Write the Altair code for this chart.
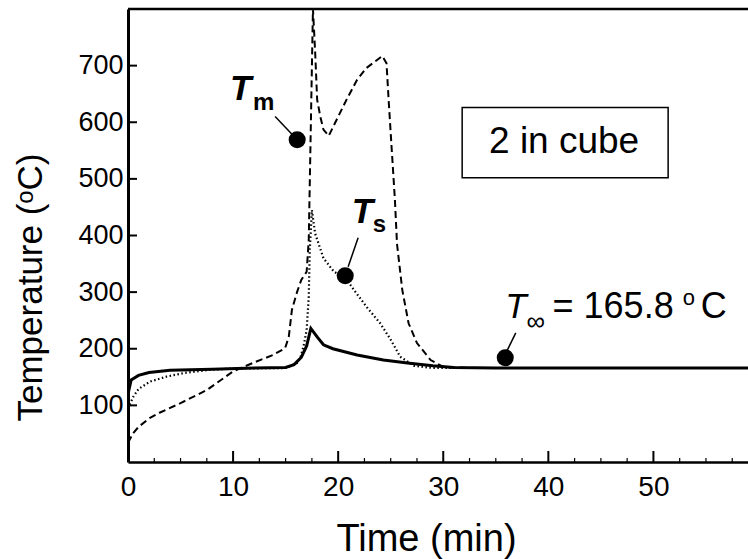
import altair as alt
import pandas as pd

# ---- data ----
solid_t = [0, 0.3, 1.0, 2.0, 4.0, 8.0, 12.0, 15.0, 15.8, 16.5, 17.0, 17.4, 18.0, 18.6, 19.5, 21.8, 24.3, 26.6, 29.0, 31.0, 35.0, 59.0]
solid_y = [120, 145, 153, 158, 162, 164, 166, 167, 172, 185, 205, 236, 221, 207, 200, 189, 180, 175, 170, 167, 166, 166]

dashed_t = [0, 0.5, 1.0, 2.1, 3.0, 5.0, 7.5, 10.0, 11.9, 13.8, 14.95, 15.3, 15.6, 16.1, 16.5, 17.0, 17.2, 17.6,
            17.8, 18.0, 18.3, 18.6, 19.1, 20.0, 20.8, 21.8, 22.7, 23.7, 24.2, 24.6, 24.8, 25.1, 25.4, 25.6,
            26.1, 26.7, 27.5, 28.8, 30.0, 31.0, 33.0, 59.0]
dashed_y = [34, 51, 62, 78, 87, 104, 127, 160, 175, 189, 201, 221, 269, 301, 322, 336, 392, 800,
            728, 640, 610, 587, 576, 610, 640, 675, 696, 710, 717, 704, 640, 551, 463, 385,
            304, 245, 210, 180, 168, 167, 166, 166]

dotted_t = [0, 0.5, 1.0, 2.1, 3.7, 5.3, 7.8, 10.0, 15.0, 16.1, 16.4, 16.7, 17.0, 17.2, 17.3, 17.5, 17.8,
            18.6, 19.6, 20.7, 21.5, 22.7, 24.0, 25.0, 25.9, 27.2, 29.0, 59.0]
dotted_y = [95, 115, 129, 142, 151, 157, 163, 165, 166, 175, 184, 204, 233, 292, 375, 445, 404,
            360, 336, 325, 304, 274, 245, 216, 186, 170, 166, 166]

x_major = [0, 10, 20, 30, 40, 50]
x_minor = [2.5, 5, 7.5, 12.5, 15, 17.5, 22.5, 25, 27.5, 32.5, 35, 37.5, 42.5, 45, 47.5, 52.5, 55, 57.5]
y_major = [100, 200, 300, 400, 500, 600, 700]

# annotation dots: Tm, Ts, T_inf
dot_t = [16.1, 20.67, 35.9]
dot_y = [569, 329, 184]

FONT = "Liberation Sans"
X_DOM = [0, 59]
Y_DOM = [0, 800]

xs = alt.Scale(domain=X_DOM, nice=False, zero=False)
ys = alt.Scale(domain=Y_DOM, nice=False, zero=False)

x_axis = alt.Axis(values=x_major, format="d", ticks=False, grid=False,
                  domainColor="black", domainWidth=2.5,
                  labelFont=FONT, labelFontSize=28, labelColor="black", labelPadding=11, labelFlush=False,
                  title="Time (min)", titleFont=FONT, titleFontSize=38, titleFontWeight="normal",
                  titleColor="black", titleX=298, titleY=88, titleBaseline="alphabetic", titleAlign="center")
y_axis = alt.Axis(values=y_major, format="d", ticks=False, grid=False,
                  domainColor="black", domainWidth=3,
                  labelFont=FONT, labelFontSize=27, labelColor="black", labelPadding=5,
                  title="Temperature (ᵒC)", titleFont=FONT, titleFontSize=35, titleFontWeight="normal",
                  titleColor="black", titleX=-87, titleY=278, titleAngle=270,
                  titleBaseline="alphabetic", titleAlign="center")


def XF(f):
    return alt.X(f, type="quantitative", scale=xs, axis=x_axis)


def YF(f):
    return alt.Y(f, type="quantitative", scale=ys, axis=y_axis)


def XD(v):
    return alt.XDatum(datum=v, scale=xs, axis=x_axis)


def YD(v):
    return alt.YDatum(datum=v, scale=ys, axis=y_axis)


def line(t, y, width, dash=None):
    df = pd.DataFrame({"t": t, "y": y, "idx": list(range(len(t)))})
    kw = dict(color="black", strokeWidth=width, clip=True)
    if dash is not None:
        kw["strokeDash"] = dash
    return alt.Chart(df).mark_line(**kw).encode(
        x=XF("t"), y=YF("y"), order=alt.Order("idx:Q"))


solid = line(solid_t, solid_y, 3.0)
dashed = line(dashed_t, dashed_y, 2.0, dash=[7, 4])
dotted = line(dotted_t, dotted_y, 2.2, dash=[1.5, 2.5])

# ticks (inward)
xt_major = alt.Chart(pd.DataFrame({"t": x_major})).mark_rule(color="black", strokeWidth=2).encode(
    x=XF("t"), y=alt.value(453), y2=alt.value(442))
xt_minor = alt.Chart(pd.DataFrame({"t": x_minor})).mark_rule(color="black", strokeWidth=1.2).encode(
    x=XF("t"), y=alt.value(453), y2=alt.value(449))
yt_major = alt.Chart(pd.DataFrame({"y": y_major})).mark_rule(color="black", strokeWidth=2).encode(
    y=YF("y"), x=alt.value(0), x2=alt.value(9))

one = pd.DataFrame({"k": [0]})
top_border = alt.Chart(one).mark_rule(color="black", strokeWidth=2.5).encode(
    x=XD(X_DOM[0]), x2=alt.X2Datum(datum=X_DOM[1]), y=YD(Y_DOM[1]))


def seg(t1, y1, t2, y2):
    return alt.Chart(one).mark_rule(color="black", strokeWidth=1.5).encode(
        x=XD(t1), x2=alt.X2Datum(datum=t2), y=YD(y1), y2=alt.Y2Datum(datum=y2))


leaders = seg(14.0, 610, 16.1, 569) + seg(21.9, 396, 20.95, 345) + seg(36.9, 228, 36.0, 194)

dots = alt.Chart(pd.DataFrame({"t": dot_t, "y": dot_y})).mark_circle(color="black", opacity=1, size=290).encode(
    x=XF("t"), y=YF("y"))


def txt(s, t, y, size, italic=False, bold=False, align="left"):
    kw = dict(text=s, font=FONT, fontSize=size, color="black", align=align, baseline="alphabetic")
    if italic:
        kw["fontStyle"] = "italic"
    if bold:
        kw["fontWeight"] = "bold"
    return alt.Chart(one).mark_text(**kw).encode(x=XD(t), y=YD(y))


labels = (
    txt("T", 9.7, 640, 35, italic=True, bold=True)
    + txt("m", 11.9, 622, 24, bold=True)
    + txt("T", 21.3, 422, 35, italic=True, bold=True)
    + txt("s", 23.3, 406, 24, bold=True)
    + txt("T", 35.9, 254, 35, italic=True)
    + txt("∞", 37.9, 233, 26, italic=True)
    + txt("= 165.8", 40.4, 254, 36)
    + txt("o", 52.8, 277, 22)
    + txt("C", 54.5, 254, 36)
)

box = alt.Chart(one).mark_rect(fill="white", stroke="black", strokeWidth=1.5).encode(
    x=XD(31.8), x2=alt.X2Datum(datum=51.4), y=YD(626), y2=alt.Y2Datum(datum=502))
box_text = txt("2 in cube", 41.5, 546, 37, align="center")

chart = alt.layer(
    solid, dashed, dotted, xt_major, xt_minor, yt_major, top_border,
    leaders, dots, labels, box, box_text
).properties(
    width=620, height=453,
    padding={"left": 128, "top": 9, "right": 0, "bottom": 97},
    autosize=alt.AutoSizeParams(type="none"),
    background="white",
).configure_view(stroke="transparent")

chart.save("out.html", embed_options={"renderer": "svg", "actions": False})
